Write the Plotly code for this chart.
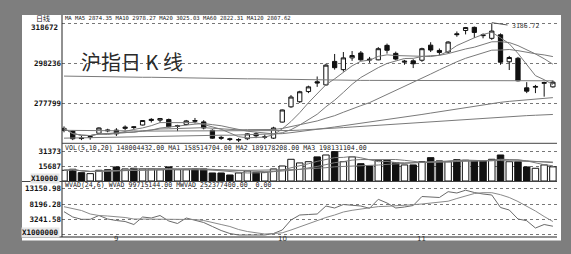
import plotly.graph_objects as go
import pandas as pd

W, H = 571, 254

# ---------------- data ----------------
idx = list(range(57))
opens = [2640, 2636, 2601, 2603, 2625, 2642, 2641, 2650, 2658, 2667, 2690, 2692, 2695, 2660, 2670, 2690, 2683, 2640, 2604, 2597,
         2590, 2597, 2622, 2605, 2600, 2682, 2760, 2786, 2838, 2888, 2872, 2992, 2950, 3010, 3035, 3004, 3000, 3074, 3033, 2988,
         2995, 2998, 3075, 3048, 3040, 3133, 3150, 3166, 3128, 3110, 3128, 2990, 3008, 2857, 2860, 2880, 2862]
highs = [2660, 2640, 2612, 2612, 2655, 2648, 2651, 2665, 2662, 2692, 2702, 2703, 2700, 2668, 2693, 2703, 2692, 2645, 2612, 2602,
         2600, 2625, 2630, 2618, 2658, 2746, 2820, 2842, 2868, 2915, 2980, 3030, 3040, 3045, 3045, 3015, 3065, 3083, 3042, 3000,
         3003, 3062, 3090, 3058, 3095, 3145, 3168, 3170, 3135, 3186.72, 3135, 3020, 3015, 2886, 2872, 2888, 2895]
lows = [2630, 2590, 2590, 2592, 2622, 2630, 2611, 2640, 2645, 2665, 2680, 2680, 2655, 2636, 2666, 2675, 2645, 2597, 2591, 2585,
        2580, 2590, 2600, 2595, 2596, 2680, 2755, 2780, 2830, 2862, 2868, 2950, 2940, 2995, 2995, 2985, 2998, 3032, 2998, 2975,
        2958, 2990, 3040, 3025, 3035, 3118, 3130, 3112, 3110, 3102, 2975, 2948, 2890, 2830, 2830, 2812, 2858]
closes = [2650, 2597, 2598, 2608, 2652, 2638, 2622, 2656, 2655, 2690, 2696, 2700, 2658, 2663, 2688, 2687, 2652, 2600, 2600, 2593,
          2593, 2622, 2612, 2607, 2652, 2744, 2810, 2837, 2862, 2882, 2973, 2960, 3010, 3022, 3000, 3000, 3057, 3049, 3004, 2993,
          2980, 3057, 3050, 3038, 3091, 3129, 3165, 3140, 3124, 3147, 2988, 3012, 2893, 2840, 2864, 2884, 2886]
ma60 = [2600, 2601, 2601, 2602, 2603, 2604, 2604, 2605, 2606, 2607, 2608, 2609, 2610, 2611, 2612, 2613, 2614, 2614, 2615, 2615,
        2616, 2617, 2617, 2618, 2620, 2623, 2628, 2633, 2638, 2644, 2651, 2657, 2663, 2670, 2676, 2682, 2689, 2695, 2702, 2708,
        2714, 2721, 2728, 2735, 2742, 2749, 2757, 2764, 2771, 2778, 2783, 2788, 2792, 2795, 2799, 2803, 2807]
ma120 = [2640, 2640, 2639, 2639, 2638, 2638, 2637, 2637, 2637, 2636, 2636, 2636, 2636, 2636, 2636, 2636, 2636, 2636, 2636, 2636,
         2636, 2636, 2636, 2637, 2637, 2638, 2639, 2641, 2643, 2645, 2648, 2651, 2654, 2657, 2660, 2663, 2666, 2669, 2672, 2675,
         2678, 2681, 2684, 2687, 2690, 2693, 2697, 2700, 2703, 2706, 2709, 2711, 2713, 2715, 2717, 2719, 2721]
ma250 = [2917, 2916, 2916, 2915, 2915, 2914, 2913, 2913, 2912, 2911, 2911, 2910, 2909, 2909, 2908, 2907, 2907, 2906, 2905, 2905,
         2904, 2903, 2903, 2902, 2901, 2901, 2900, 2899, 2899, 2898, 2897, 2897, 2896, 2896, 2895, 2895, 2895, 2894, 2894, 2894,
         2894, 2893, 2893, 2893, 2893, 2893, 2893, 2893, 2893, 2893, 2893, 2893, 2893, 2893, 2893, 2893, 2893]
volume = [11200, 12300, 8700, 7700, 11200, 11800, 14700, 12600, 13300, 12600, 12600, 11800, 14700, 11800, 11800, 12600, 12600,
          8400, 8400, 6300, 8400, 10500, 9100, 9100, 12600, 15700, 22700, 18900, 20200, 25200, 27200, 30700, 20200, 25200, 18100,
          15700, 21700, 21700, 19200, 16800, 16800, 20200, 24400, 21000, 20200, 22300, 21700, 21000, 21000, 22700, 27200, 20200,
          20200, 14700, 13300, 16800, 14800]
wvad = [5703, 3987, 3242, 3242, 4472, 3339, 2853, 2530, 1558, 3987, 3663, 4472, 2692, 1882, 3663, 2853, 2206, 910, -385, -1356,
        -1842, -1842, -1842, -1842, -1356, -223, 3015, 4635, 4796, 4958, 7549, 6901, 8034, 7872, 7549, 6804, 9718, 8520, 6901,
        7225, 7711, 10625, 10528, 10301, 12179, 11758, 12665, 11920, 11434, 11110, 7063, 6253, 3339, 2789, 425, 1558, 997]
mawvad = [7322, 6739, 6092, 4958, 4472, 4311, 4149, 3825, 3339, 3339, 3242, 3242, 3242, 3242, 3242, 3177, 2853, 2109, 1558, 910,
          -61, -709, -1194, -1518, -1356, -1129, -223, 846, 1882, 2853, 3825, 4634, 5606, 6156, 6577, 7063, 7354, 7451, 7549,
          7775, 7970, 8196, 8455, 8747, 9103, 9977, 10787, 11596, 11855, 11855, 11207, 10301, 9006, 7549, 5930, 4149, 2524]

month_pos = [6, 25, 41]
month_lbl = ["9", "10", "11"]
price_ticks = [3186.72, 2982.36, 2777.99]
price_lbls = ["318672", "298236", "277799"]
vol_ticks = [31373, 15687]
vol_lbls = ["31373", "15687"]
wvad_ticks = [13150.98, 8196.28, 3241.58, -1713.12]
wvad_lbls = ["13150.98", "8196.28", "3241.58", ""]

cl = pd.Series(closes)
ma5 = cl.rolling(5, min_periods=1).mean()
ma10 = cl.rolling(10, min_periods=1).mean()
ma20 = cl.rolling(20, min_periods=1).mean()
vs = pd.Series(volume)
vma5 = vs.rolling(5, min_periods=1).mean()
vma10 = vs.rolling(10, min_periods=1).mean()
vma20 = vs.rolling(20, min_periods=1).mean()

# ---------------- figure ----------------
def py(p):
    return 1 - p / H

def px(p):
    return p / W

GRAY = "#7e7e7e"
LINEC = "#7a7a7a"
fig = go.Figure()

fig.add_trace(go.Candlestick(
    x=idx, open=opens, high=highs, low=lows, close=closes,
    increasing=dict(line=dict(color="#111", width=1), fillcolor="white"),
    decreasing=dict(line=dict(color="#111", width=1), fillcolor="#111"),
    xaxis="x", yaxis="y", showlegend=False, hoverinfo="skip"))
for s in [ma5, ma10, ma20, ma60, ma120, ma250]:
    fig.add_trace(go.Scatter(x=idx, y=list(s), mode="lines", line=dict(color=LINEC, width=1),
                             xaxis="x", yaxis="y", showlegend=False, hoverinfo="skip"))

vcol = ["white" if c >= o else "#111" for o, c in zip(opens, closes)]
fig.add_trace(go.Bar(x=idx, y=volume, width=0.74, marker=dict(color=vcol, line=dict(color="#111", width=1)),
                     xaxis="x2", yaxis="y2", showlegend=False, hoverinfo="skip"))
for s in [vma5, vma10, vma20]:
    fig.add_trace(go.Scatter(x=idx, y=list(s), mode="lines", line=dict(color=LINEC, width=1),
                             xaxis="x2", yaxis="y2", showlegend=False, hoverinfo="skip"))

fig.add_trace(go.Scatter(x=idx, y=wvad, mode="lines", line=dict(color="#6a6a6a", width=1),
                         xaxis="x3", yaxis="y3", showlegend=False, hoverinfo="skip"))
fig.add_trace(go.Scatter(x=idx, y=mawvad, mode="lines", line=dict(color="#8a8a8a", width=1),
                         xaxis="x3", yaxis="y3", showlegend=False, hoverinfo="skip"))

xr = [-0.23, 56.47]
xdom = [px(62), px(557)]
tickfont = dict(family="DejaVu Sans Mono", size=7.5, color="#111", weight="bold")
grid = dict(showgrid=True, gridcolor="#777", gridwidth=1, griddash="dot", zeroline=False,
            ticks="", showline=False, tickfont=tickfont)

fig.update_layout(
    width=W, height=H, margin=dict(l=0, r=0, t=0, b=0),
    paper_bgcolor=GRAY, plot_bgcolor="rgba(0,0,0,0)",
    xaxis=dict(domain=xdom, range=xr, anchor="y", matches="x3", showticklabels=False, showgrid=False,
               zeroline=False, rangeslider=dict(visible=False), ticks=""),
    xaxis2=dict(domain=xdom, range=xr, anchor="y2", matches="x3", showticklabels=False, showgrid=False,
                zeroline=False, ticks=""),
    xaxis3=dict(domain=xdom, range=xr, anchor="y3", showgrid=False, zeroline=False,
                showticklabels=False, ticks="", showline=False),
    yaxis=dict(domain=[py(143), py(17)], range=[2575.2, 3218.9], tickmode="array",
               tickvals=price_ticks, ticktext=[""] + price_lbls[1:], **grid),
    yaxis2=dict(domain=[py(181), py(145)], range=[0, 37650], tickmode="array",
                tickvals=vol_ticks, ticktext=vol_lbls, **grid),
    yaxis3=dict(domain=[py(237), py(184)], range=[-2489, 14672], tickmode="array",
                tickvals=wvad_ticks, ticktext=wvad_lbls, **grid),
)

shapes = [
    dict(type="rect", xref="paper", yref="paper", x0=px(22), x1=px(561), y0=py(240.5), y1=py(15),
         fillcolor="white", line=dict(width=0), layer="below"),
    dict(type="line", xref="paper", yref="paper", x0=px(62), x1=px(62), y0=py(237), y1=py(15),
         line=dict(color="#222", width=1)),
    dict(type="line", xref="paper", yref="paper", x0=px(62), x1=px(557), y0=py(143.3), y1=py(143.3),
         line=dict(color="#444", width=1)),
    dict(type="line", xref="paper", yref="paper", x0=px(22), x1=px(557), y0=py(181.5), y1=py(181.5),
         line=dict(color="#444", width=1)),
    dict(type="line", xref="paper", yref="paper", x0=px(22), x1=px(557), y0=py(237), y1=py(237),
         line=dict(color="#222", width=1)),
    dict(type="line", xref="x", yref="y", x0=49, x1=50.8, y0=3190, y1=3178,
         line=dict(color="#555", width=1)),
]
fig.update_layout(shapes=shapes)

hdr = dict(family="DejaVu Sans Mono", size=6.6, color="#222")
ann = [
    dict(x=px(63), y=py(18), text="MA MA5 2874.35 MA10 2978.27 MA20 3025.03 MA60 2822.31 MA120 2807.62",
         font=dict(family="DejaVu Sans Mono", size=5.6, color="#222")),
    dict(x=px(63), y=py(147.5), text="VOL(5,10,20) 148004432.00 MA1 158514704.00 MA2 189178208.00 MA3 198131104.00",
         font=hdr),
    dict(x=px(63), y=py(185), text="WVAD(24,6) WVAD 99715144.00 MWVAD 252377400.00  0.00", font=hdr),
    dict(x=px(34), y=py(18), text="日线", font=dict(family="Noto Sans CJK SC", size=7, color="#222")),
    dict(x=px(79), y=py(61), text="沪指日 K 线", font=dict(family="Noto Sans CJK SC", size=20, color="#2a2a2a")),
    dict(x=px(510), y=py(26), text="3186.72", font=dict(family="DejaVu Sans Mono", size=6.5, color="#333")),
]
for a in ann:
    a.update(xref="paper", yref="paper", xanchor="left", yanchor="middle", showarrow=False)
# top price label sits just below its gridline
ann.append(dict(xref="paper", yref="paper", x=px(60), y=py(27.5), text=price_lbls[0], xanchor="right",
                yanchor="middle", showarrow=False, font=tickfont))
for t, yy in [("X10000", 178.5), ("X1000000", 232)]:
    ann.append(dict(xref="paper", yref="paper", x=px(60), y=py(yy), text=t, xanchor="right", yanchor="middle",
                    showarrow=False, font=tickfont, bgcolor="#e6e6e6", borderpad=0))
for xv, t in zip(month_pos, month_lbl):
    ann.append(dict(xref="x3", yref="paper", x=xv, y=py(239), text=t, xanchor="center", yanchor="middle",
                    showarrow=False, font=dict(family="DejaVu Sans", size=7, color="#333")))
fig.update_layout(annotations=ann)

fig.write_html("out.html", config={"displayModeBar": False, "staticPlot": True},
               post_script="document.body.style.margin='0';document.body.style.padding='0';")
